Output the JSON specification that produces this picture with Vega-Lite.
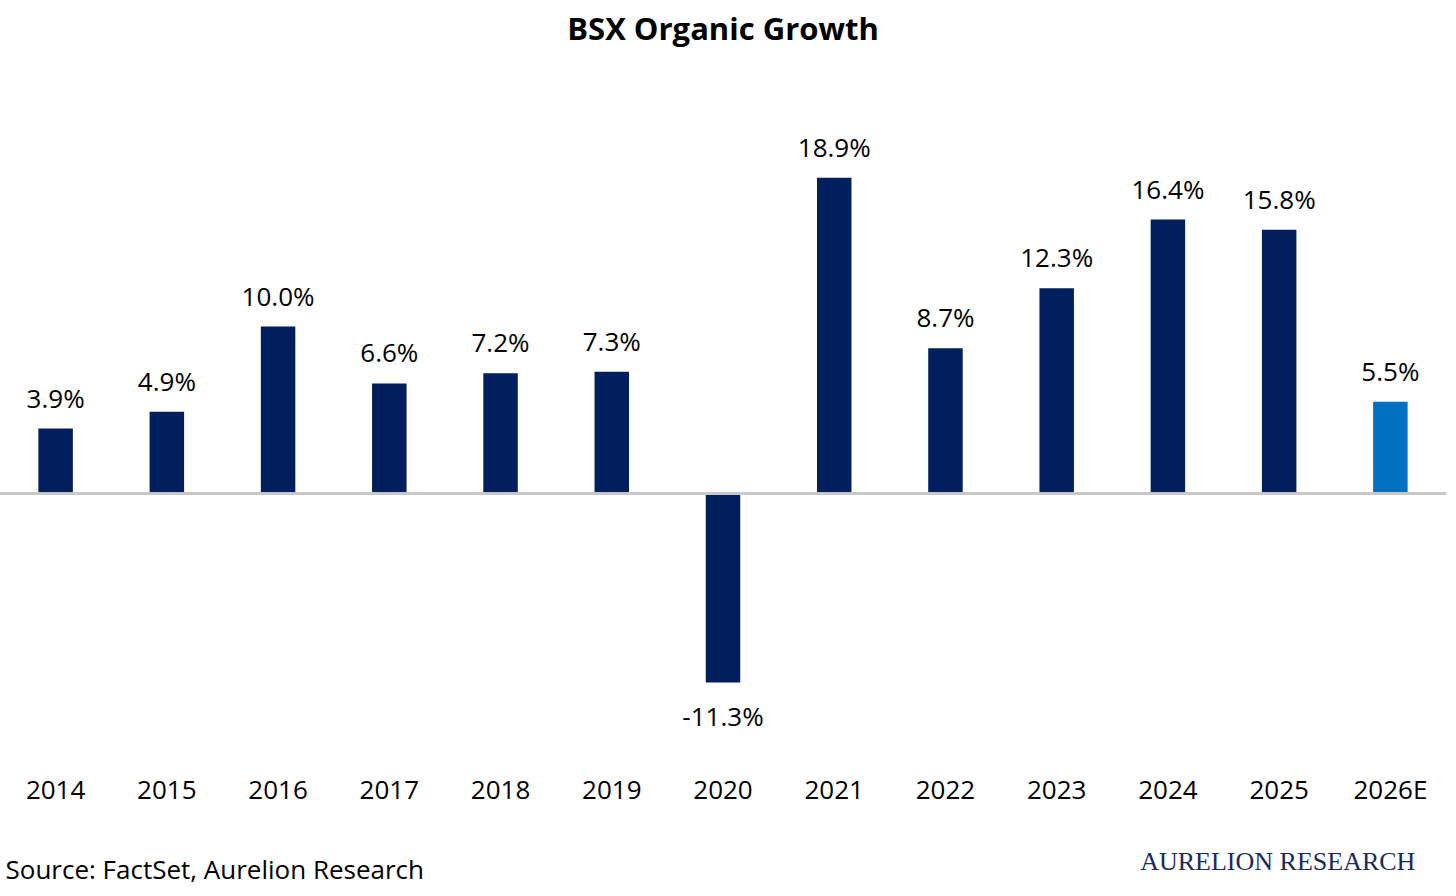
{
  "$schema": "https://vega.github.io/schema/vega-lite/v6.json",
  "autosize": {"type": "none"},
  "width": 1446,
  "height": 585,
  "padding": {"left": 0, "top": 126, "right": 10, "bottom": 185},
  "background": "white",
  "config": {"view": {"stroke": null}, "font": "Open Sans"},
  "title": {"text": "BSX Organic Growth", "fontSize": 31, "fontWeight": "bold", "font": "Open Sans", "color": "#000", "anchor": "middle", "offset": 79},
  "data": {"values": [
    {"year": "2014", "g": 3.9, "kind": "a"},
    {"year": "2015", "g": 4.9, "kind": "a"},
    {"year": "2016", "g": 10.0, "kind": "a"},
    {"year": "2017", "g": 6.6, "kind": "a"},
    {"year": "2018", "g": 7.2, "kind": "a"},
    {"year": "2019", "g": 7.3, "kind": "a"},
    {"year": "2020", "g": -11.3, "kind": "a"},
    {"year": "2021", "g": 18.9, "kind": "a"},
    {"year": "2022", "g": 8.7, "kind": "a"},
    {"year": "2023", "g": 12.3, "kind": "a"},
    {"year": "2024", "g": 16.4, "kind": "a"},
    {"year": "2025", "g": 15.8, "kind": "a"},
    {"year": "2026E", "g": 5.5, "kind": "e"}
  ]},
  "transform": [{"calculate": "replace(format(datum.g, '.1f'), '−', '-') + '%'", "as": "lbl"}],
  "encoding": {
    "x": {"field": "year", "type": "nominal", "sort": null,
      "scale": {"paddingInner": 0.69, "paddingOuter": 0.345},
      "axis": {"domain": false, "ticks": false, "labelAngle": 0, "labelFontSize": 26, "labelColor": "#000", "labelPadding": 66,
        "title": "Source: FactSet, Aurelion Research", "titleFontSize": 26, "titleFontWeight": "normal", "titleColor": "#000",
        "titleAnchor": "start", "titleAlign": "left", "titleX": 5, "titleY": 146}}
  },
  "layer": [
    {
      "mark": {"type": "bar"},
      "encoding": {
        "y": {"field": "g", "type": "quantitative", "scale": {"domain": [-13, 22], "nice": false}, "axis": null},
        "color": {"field": "kind", "type": "nominal", "scale": {"domain": ["a", "e"], "range": ["#001f5c", "#0070c0"]}, "legend": null}
      }
    },
    {
      "mark": {"type": "rule", "color": "#c8c8c8", "strokeWidth": 2},
      "encoding": {"y": {"datum": 0}, "x": null}
    },
    {
      "transform": [{"filter": "datum.g >= 0"}],
      "mark": {"type": "text", "baseline": "bottom", "dy": -16, "fontSize": 26, "color": "#000"},
      "encoding": {"y": {"field": "g", "type": "quantitative"}, "text": {"field": "lbl"}}
    },
    {
      "transform": [{"filter": "datum.g < 0"}],
      "mark": {"type": "text", "baseline": "top", "dy": 22, "fontSize": 26, "color": "#000"},
      "encoding": {"y": {"field": "g", "type": "quantitative"}, "text": {"field": "lbl"}}
    },
    {
      "data": {"values": [{"year": "2026E", "t": "AURELION RESEARCH"}]},
      "mark": {"type": "text", "align": "right", "dx": 25, "dy": 151, "baseline": "middle", "font": "Liberation Serif", "fontSize": 26, "color": "#1a2a5c"},
      "encoding": {"y": {"datum": -13}, "text": {"field": "t"}}
    }
  ]
}
